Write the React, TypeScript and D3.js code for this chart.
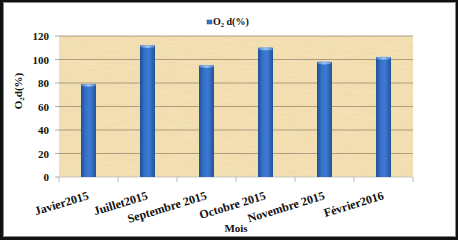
import React from "react";
import * as d3 from "d3";

const categories = ["Javier2015", "Juillet2015", "Septembre 2015", "Octobre 2015", "Novembre 2015", "Février2016"];
const values = [79, 112, 95, 110, 98, 102];
const yTicks = [0, 20, 40, 60, 80, 100, 120];

const W = 458, H = 240;
const m = { left: 59, right: 413, top: 36, bottom: 177 };
const font = "'Liberation Serif', 'Times New Roman', serif";

export default function App() {
  const x = d3.scaleBand<string>().domain(categories).range([m.left, m.right]).paddingInner(0).paddingOuter(0);
  const y = d3.scaleLinear().domain([0, 120]).range([m.bottom, m.top]);
  const bw = 15;
  return (
    <svg width={W} height={H} style={{ position: "absolute", left: 0, top: 0 }} fontFamily={font}>
      <defs>
        <linearGradient id="barG" x1="0" x2="1" y1="0" y2="0">
          <stop offset="0" stopColor="#1f4f96" />
          <stop offset="0.3" stopColor="#3570c8" />
          <stop offset="0.6" stopColor="#3d7ad4" />
          <stop offset="1" stopColor="#22529a" />
        </linearGradient>
        <linearGradient id="capG" x1="0" x2="1" y1="0" y2="0">
          <stop offset="0" stopColor="#4f86d0" />
          <stop offset="0.5" stopColor="#9cc2ee" />
          <stop offset="1" stopColor="#4f86d0" />
        </linearGradient>
        <filter id="pap" x="0" y="0" width="100%" height="100%">
          <feTurbulence type="fractalNoise" baseFrequency="0.9 0.05" numOctaves="2" seed="3" result="n" />
          <feColorMatrix in="n" type="matrix" values="0 0 0 0 0.8  0 0 0 0 0.68  0 0 0 0 0.45  0 0 0 0.25 -0.05" result="c" />
          <feComposite in="c" in2="SourceGraphic" operator="in" />
        </filter>
        <filter id="pap2" x="0" y="0" width="100%" height="100%">
          <feTurbulence type="fractalNoise" baseFrequency="0.05 0.9" numOctaves="2" seed="7" result="n" />
          <feColorMatrix in="n" type="matrix" values="0 0 0 0 1  0 0 0 0 0.95  0 0 0 0 0.82  0 0 0 0.35 -0.08" result="c" />
          <feComposite in="c" in2="SourceGraphic" operator="in" />
        </filter>
      </defs>
      <rect x={0} y={0} width={W} height={H} fill="#111" />
      <rect x={3} y={2} width={453} height={235} fill="#8a8a8a" />
      <rect x={4} y={3} width={451} height={233} fill="#ffffff" />

      <rect x={m.left} y={m.top} width={m.right - m.left} height={m.bottom - m.top} fill="#f1dcab" />
      <rect x={m.left} y={m.top} width={m.right - m.left} height={m.bottom - m.top} fill="#f1dcab" filter="url(#pap)" />
      <rect x={m.left} y={m.top} width={m.right - m.left} height={m.bottom - m.top} fill="#f1dcab" filter="url(#pap2)" />

      {yTicks.filter(t => t > 0).map(t => (
        <line key={t} x1={m.left} x2={m.right} y1={y(t)} y2={y(t)} stroke="#a08c70" strokeWidth={0.8} />
      ))}
      {yTicks.map(t => (
        <g key={"yt" + t}>
          <line x1={m.left - 4} x2={m.left} y1={y(t)} y2={y(t)} stroke="#999" strokeWidth={0.8} />
          <text x={49} y={y(t) + 4} textAnchor="end" fontSize={11} fontWeight="bold" fill="#111">{t}</text>
        </g>
      ))}
      <line x1={m.left} x2={m.right} y1={m.bottom} y2={m.bottom} stroke="#bbb" strokeWidth={0.8} />
      {[...categories.map(c => x(c)!), m.right].map((px, i) => (
        <line key={"xt" + i} x1={px} x2={px} y1={m.bottom} y2={m.bottom + 5} stroke="#aaa" strokeWidth={0.8} />
      ))}

      {categories.map((c, i) => {
        const cx = x(c)! + x.bandwidth() / 2;
        const top = y(values[i]);
        return (
          <g key={c}>
            <rect x={cx - bw / 2} y={top} width={bw} height={m.bottom - top} fill="url(#barG)" />
            <ellipse cx={cx} cy={top + 1} rx={bw / 2} ry={1.6} fill="url(#capG)" />
          </g>
        );
      })}

      {categories.map(c => {
        const cx = x(c)! + x.bandwidth() / 2;
        return (
          <text key={"xl" + c} transform={`translate(${cx + 1},${199}) rotate(-17)`} textAnchor="end" fontSize={12} fontWeight="bold" fill="#111">{c}</text>
        );
      })}

      <text x={236} y={232} textAnchor="middle" fontSize={11} fontWeight="bold" fill="#111">Mois</text>
      <text transform="translate(22,91) rotate(-90)" textAnchor="middle" fontSize={11} fontWeight="bold" fill="#111">
        O<tspan fontSize={7} dy={2}>2</tspan><tspan dy={-2}>d(%)</tspan>
      </text>

      <rect x={207} y={20} width={5} height={4} fill="#3d74c4" stroke="#24508f" strokeWidth={0.5} />
      <text x={213} y={25} fontSize={10} fontWeight="bold" fill="#111">
        O<tspan fontSize={6.5} dy={2}>2</tspan><tspan dy={-2}> d(%)</tspan>
      </text>
    </svg>
  );
}
